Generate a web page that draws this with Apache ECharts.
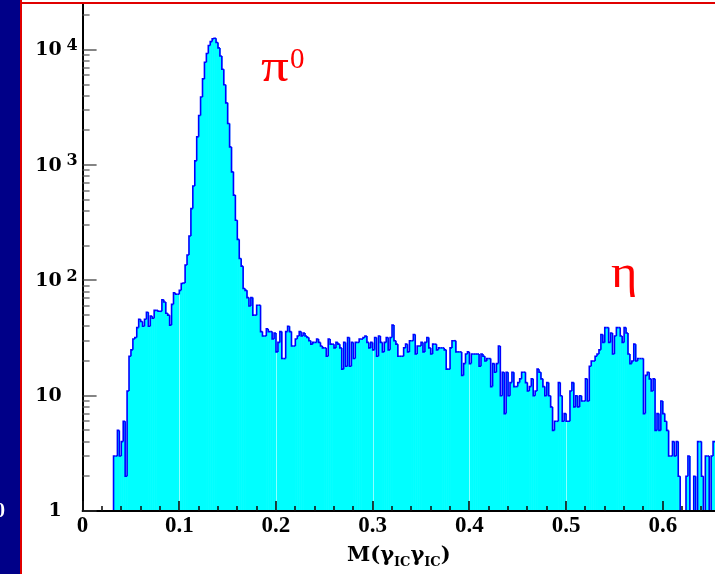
<!DOCTYPE html>
<html><head><meta charset="utf-8">
<script src="https://cdn.jsdelivr.net/npm/echarts@6/dist/echarts.min.js"></script>
<style>html,body{margin:0;padding:0;background:#fff}#c{width:715px;height:574px}</style>
</head><body><div id="c"></div>
<script>
// ---- data ----
const BIN_START = 0.032;
const BIN_WIDTH = 0.002;
const counts = [
  3,3,5,3,4,6,2,11,22,25,
  31,32,39,46,44,40,46,53,40,49,
  47,55,55,54,54,68,65,52,50,41,
  62,78,76,76,82,94,95,136,166,243,
  420,660,1090,1760,2700,3900,5600,7800,9300,10900,
  11800,12500,12600,11600,10400,8850,6800,4980,3470,2300,
  1440,875,550,333,227,155,133,85,82,71,
  60,71,50,50,61,61,36,33,33,38,
  36,36,31,35,24,29,36,21,21,36,
  40,36,27,27,31,33,36,33,35,33,
  32,30,28,29,29,31,29,27,26,26,
  22,31,28,28,26,29,28,26,17,29,
  18,32,18,29,21,29,29,31,31,32,
  33,29,26,29,25,32,22,33,29,24,
  29,32,25,32,41,30,28,22,22,22,
  26,28,24,30,30,34,23,27,27,29,
  24,29,32,26,23,28,28,25,26,26,
  26,25,17,17,26,30,30,24,24,24,
  15,19,23,24,19,23,23,23,23,18,
  23,22,20,21,21,12,19,16,19,27,
  10,16,7,16,10,13,16,12,12,13,
  14,16,16,13,11,12,14,10,11,17,
  16,14,12,10,13,10,8,5,6,6,
  13,10,6,7,6,6,11,13,8,10,
  8,10,9,9,14,9,18,20,20,22,
  23,25,34,29,39,39,29,35,23,33,
  39,39,33,29,39,35,23,19,20,28,
  20,21,21,21,7,15,16,14,11,14,
  5,7,5,9,7,6,5,3,3,4,
  3,4,2,0,0,0,2,3,0,0,
  2,0,4,4,2,0,3,3,0,3,4
];
const X_MIN = 0, X_MAX = 0.654;
const Y_MIN = 1, Y_MAX = 25000;
const X_INTERVAL = 0.1;
const xMajorTicks = [0, 0.1, 0.2, 0.3, 0.4, 0.5, 0.6];
const xMinorTicks = [0.02, 0.04, 0.06, 0.08, 0.12, 0.14, 0.16, 0.18, 0.22, 0.24, 0.26, 0.28,
  0.32, 0.34, 0.36, 0.38, 0.42, 0.44, 0.46, 0.48, 0.52, 0.54, 0.56, 0.58, 0.62, 0.64];
const yDecades = [1, 10, 100, 1000, 10000];
const yMinorMults = [2, 3, 4, 5, 6, 7, 8, 9];
const shadeLines = [0.1, 0.2, 0.3, 0.4, 0.5];
const xTitle = ['M(γ', 'IC', 'γ', 'IC', ')'];
const peakLabels = [{t: 'π', sup: '0'}, {t: 'η'}];

// ---- build ----
const histData = counts.map((c, i) => [
  BIN_START + i * BIN_WIDTH, BIN_START + (i + 1) * BIN_WIDTH, c, i > 0 ? counts[i - 1] : 0
]);
const yTickData = [];
yDecades.forEach(d => {
  yTickData.push([X_MIN, d, 1]);
  yMinorMults.forEach(m => { if (d * m <= Y_MAX) yTickData.push([X_MIN, d * m, 0]); });
});

const SERIF = '"Liberation Serif", serif';
const WSERIF = '"DejaVu Serif", serif';
const chart = echarts.init(document.getElementById('c'), null, {renderer: 'canvas'});

function safe(v) { return v > 0 ? v : Y_MIN; }

const baseGraphic = [
  {type: 'rect', z: 100, shape: {x: 0, y: 0, width: 20, height: 574}, style: {fill: '#000088'}},
  {type: 'rect', z: 100, shape: {x: 20, y: 0, width: 2, height: 574}, style: {fill: '#e00000'}},
  {type: 'rect', z: 100, shape: {x: 20, y: 2, width: 695, height: 2}, style: {fill: '#e00000'}},
  {type: 'text', z: 101, x: -5, y: 502, style: {text: '0', font: 'bold 20px ' + SERIF, fill: '#fff'}},
  {type: 'text', z: 101, x: 261, y: 46, scaleX: 1.2, style: {text: peakLabels[0].t, font: '46px ' + SERIF, fill: '#ff0000'}},
  {type: 'text', z: 101, x: 290, y: 46, style: {text: peakLabels[0].sup, font: '29px ' + SERIF, fill: '#ff0000'}},
  {type: 'text', z: 101, x: 611, y: 252, scaleX: 1.1, style: {text: peakLabels[1].t, font: '46px ' + SERIF, fill: '#ff0000'}}
];

chart.setOption({
  animation: false,
  backgroundColor: '#ffffff',
  grid: {left: 82.6, right: 0, top: 4, bottom: 63, containLabel: false},
  xAxis: {
    type: 'value', min: X_MIN, max: X_MAX, interval: X_INTERVAL, z: 10,
    axisLine: {show: true, onZero: false, lineStyle: {color: '#000', width: 2}},
    axisTick: {show: false}, minorTick: {show: false},
    splitLine: {show: false},
    axisLabel: {
      showMaxLabel: false, margin: 4,
      fontFamily: SERIF, fontWeight: 'bold', fontSize: 23, color: '#000',
      formatter: v => v === 0 ? '0' : v.toFixed(1)
    },
    name: '{m|' + xTitle[0] + '}{s|' + xTitle[1] + '}{m|' + xTitle[2] + '}{s|' + xTitle[3] + '}{m|' + xTitle[4] + '}',
    nameLocation: 'middle', nameGap: 34,
    nameTextStyle: {
      rich: {
        m: {fontFamily: WSERIF, fontWeight: 'bold', fontSize: 21, color: '#000', verticalAlign: 'top', lineHeight: 24},
        s: {fontFamily: WSERIF, fontWeight: 'bold', fontSize: 13, color: '#000', verticalAlign: 'bottom', lineHeight: 14}
      }
    }
  },
  yAxis: {
    type: 'log', logBase: 10, min: Y_MIN, max: Y_MAX, z: 10,
    axisLine: {show: true, onZero: false, lineStyle: {color: '#000', width: 2}},
    axisTick: {show: false}, splitLine: {show: false}, minorTick: {show: false},
    axisLabel: {
      showMaxLabel: false, margin: 5,
      formatter: v => {
        const e = Math.round(Math.log10(v));
        if (e === 0) return '{c|1}{pad| }';
        if (e === 1) return '{c|10}{pad| }';
        return '{b|10}{sup|' + e + '}';
      },
      rich: {
        b: {fontFamily: WSERIF, fontWeight: 'bold', fontSize: 19, color: '#000', verticalAlign: 'bottom', lineHeight: 24, padding: [0, 0, 2, 0]},
        c: {fontFamily: WSERIF, fontWeight: 'bold', fontSize: 19, color: '#000', lineHeight: 24},
        sup: {fontFamily: WSERIF, fontWeight: 'bold', fontSize: 16, color: '#000', verticalAlign: 'top', lineHeight: 16, padding: [0, 0, 0, 7], width: 9},
        pad: {fontSize: 16, width: 16}
      }
    }
  },
  series: [
    { // fill
      type: 'custom', z: 2, silent: true,
      data: histData, encode: {x: [0, 1], y: 2},
      renderItem: (params, api) => {
        const c = api.value(2);
        if (!(c > 0)) return null;
        const a = api.coord([api.value(0), c]);
        const b = api.coord([api.value(1), c]);
        const base = api.coord([api.value(0), Y_MIN]);
        return {type: 'rect', shape: {x: a[0], y: a[1], width: b[0] - a[0] + 0.6, height: base[1] - a[1]},
          style: {fill: '#00ffff'}};
      }
    },
    { // faint vertical shade lines inside fill
      type: 'custom', z: 3, silent: true,
      data: shadeLines.map(v => [v, Y_MAX]), encode: {x: 0, y: 1},
      renderItem: (params, api) => {
        const top = api.coord([api.value(0), Y_MAX]);
        const bot = api.coord([api.value(0), Y_MIN]);
        return {type: 'line', shape: {x1: Math.round(top[0]) + 0.5, y1: top[1], x2: Math.round(top[0]) + 0.5, y2: bot[1]},
          style: {stroke: 'rgba(255,255,255,0.55)', lineWidth: 1}};
      }
    },
    { // outline
      type: 'custom', z: 4, silent: true,
      data: histData, encode: {x: [0, 1], y: 2},
      renderItem: (params, api) => {
        const x0 = api.value(0), x1 = api.value(1);
        const c = safe(api.value(2)), p = safe(api.value(3));
        const a = api.coord([x0, c]), b = api.coord([x1, c]), pp = api.coord([x0, p]);
        return {type: 'polyline', shape: {points: [[a[0], pp[1]], [a[0], a[1]], [b[0], b[1]]]},
          style: {stroke: '#0000ff', lineWidth: 1.6, fill: null}};
      }
    },
    { // y-axis log ticks, pointing inside the frame
      type: 'custom', z: 50, silent: true, clip: false,
      data: yTickData, encode: {x: 0, y: 1},
      renderItem: (params, api) => {
        const major = api.value(2) === 1;
        const p = api.coord([api.value(0), api.value(1)]);
        const len = major ? 14 : 7;
        return {type: 'rect', shape: {x: p[0], y: Math.round(p[1]) - 0.6, width: len, height: 1.2},
          style: {fill: major ? '#333' : '#555'}};
      }
    }
  ],
  graphic: baseGraphic
});

// x-axis ticks (inside), placed through the axis scale with convertToPixel
const xTickGraphic = [];
[[xMajorTicks, 10], [xMinorTicks, 5]].forEach(([vals, len]) => {
  vals.forEach(v => {
    const p = chart.convertToPixel({xAxisIndex: 0, yAxisIndex: 0}, [v, Y_MIN]);
    const x = Math.round(p[0]) - 0.8;
    xTickGraphic.push({type: 'rect', z: 60, silent: true,
      shape: {x: x, y: p[1] - len, width: 1.6, height: len}, style: {fill: '#111'}});
  });
});
chart.setOption({graphic: baseGraphic.concat(xTickGraphic)});
</script></body></html>
